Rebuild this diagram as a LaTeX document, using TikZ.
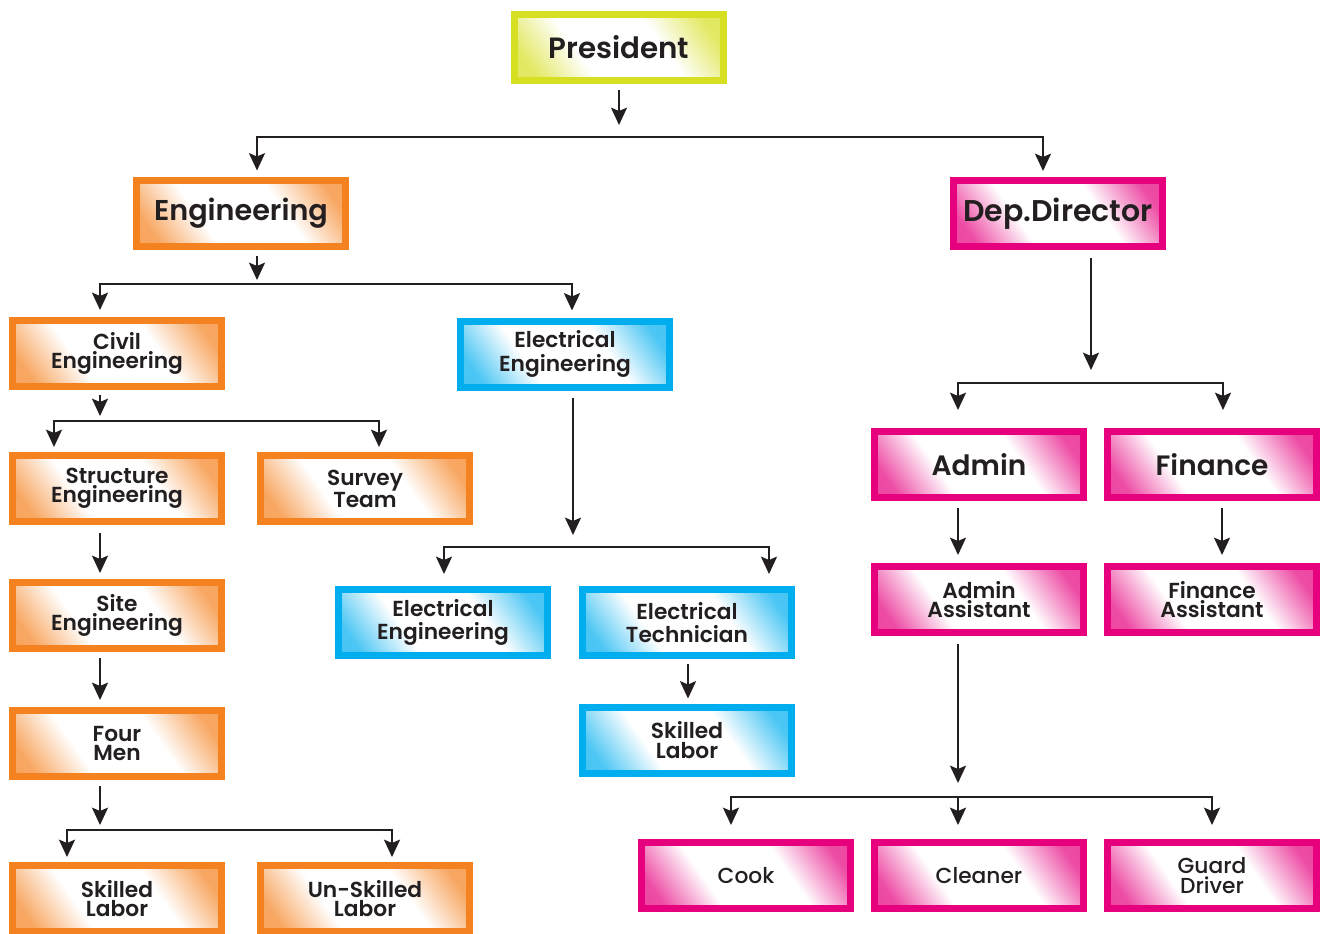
\documentclass[tikz,border=0pt]{standalone}
\usepackage{fontspec}
\setmainfont{Poppins}[UprightFont=* Medium, BoldFont=* SemiBold]
\usetikzlibrary{arrows.meta,calc}
\definecolor{cO}{HTML}{F58220}
\definecolor{cB}{HTML}{00AEEF}
\definecolor{cP}{HTML}{E6007E}
\definecolor{cY}{HTML}{D7DF23}
\definecolor{txt}{HTML}{231F20}
\pgfdeclarehorizontalshading{shO}{100bp}{color(0bp)=(cO!80); color(22bp)=(cO!70); color(38bp)=(white); color(62bp)=(white); color(78bp)=(cO!70); color(100bp)=(cO!80)}
\pgfdeclarehorizontalshading{shB}{100bp}{color(0bp)=(cB!80); color(22bp)=(cB!70); color(38bp)=(white); color(62bp)=(white); color(78bp)=(cB!70); color(100bp)=(cB!80)}
\pgfdeclarehorizontalshading{shP}{100bp}{color(0bp)=(cP!80); color(22bp)=(cP!70); color(38bp)=(white); color(62bp)=(white); color(78bp)=(cP!70); color(100bp)=(cP!80)}
\pgfdeclarehorizontalshading{shY}{100bp}{color(0bp)=(cY!80); color(22bp)=(cY!70); color(38bp)=(white); color(62bp)=(white); color(78bp)=(cY!70); color(100bp)=(cY!80)}
\tikzset{
  box/.style={draw, line width=5.25pt, minimum width=156.75pt, minimum height=49.5pt,
    inner sep=0pt, align=center, text=txt, shading angle=35},
  ob/.style={box, draw=cO, shading=shO},
  bb/.style={box, draw=cB, shading=shB},
  pb/.style={box, draw=cP, shading=shP},
  yb/.style={box, draw=cY, shading=shY},
  fbig/.style={font=\bfseries\fontsize{21.5}{20}\selectfont},
  fdep/.style={font=\bfseries\fontsize{22.5}{20}\selectfont},
  fpres/.style={font=\bfseries\fontsize{22}{20}\selectfont},
  fmid/.style={font=\bfseries\fontsize{21}{18}\selectfont},
  fsm/.style={font=\bfseries\fontsize{16.3}{14.5}\selectfont},
  fel/.style={font=\bfseries\fontsize{16.3}{17.5}\selectfont},
  fck/.style={font=\fontsize{16.3}{14.5}\selectfont},
  arr/.style={draw=txt, line width=1.8pt, -{Stealth[length=13pt,width=12pt,inset=2.5pt]}},
}
\begin{document}
\begin{tikzpicture}[x=0.75pt,y=-0.75pt]
\useasboundingbox (0,0) rectangle (1325,933);
% nodes
\node[yb,fpres] (pres)   at (619,47.5)  {President};
\node[ob,fbig]  (eng)    at (241,213)   {Engineering};
\node[pb,fdep]  (dep)    at (1058,213.5){Dep.Director};
\node[ob,fsm]   (civil)  at (117,353.5) {Civil\\Engineering};
\node[bb,fel]   (elec1)  at (565,354)   {Electrical\\Engineering};
\node[pb,fmid]  (admin)  at (979,464.5) {Admin};
\node[pb,fmid]  (fin)    at (1212,464.5){Finance};
\node[pb,fsm]   (adminA) at (979,599.5) {Admin\\Assistant};
\node[pb,fsm]   (finA)   at (1212,599.5){Finance\\Assistant};
\node[ob,fsm]   (struct) at (117,488.5) {Structure\\Engineering};
\node[ob,fsm]   (survey) at (365,488.5) {Survey\\Team};
\node[bb,fel]   (elec2)  at (443,622.5) {Electrical\\Engineering};
\node[bb,fel]   (etech)  at (687,622.5) {Electrical\\Technician};
\node[bb,fsm]   (sk2)    at (687,740)   {Skilled\\Labor};
\node[ob,fsm]   (site)   at (117,615.5) {Site\\Engineering};
\node[ob,fsm]   (four)   at (117,743.5) {Four\\Men};
\node[ob,fsm]   (sk1)    at (117,898.5) {Skilled\\Labor};
\node[ob,fsm]   (unsk)   at (365,898.5) {Un-Skilled\\Labor};
\node[pb,fck]   (cook)   at (746,875.5) {Cook};
\node[pb,fck]   (clean)  at (979,875.5) {Cleaner};
\node[pb,fck]   (guard)  at (1212,875.5){Guard\\Driver};
% junctions
\coordinate (j1) at (619,137);
\coordinate (j2) at (257,284);
\coordinate (j3) at (1091,383);
\coordinate (j4) at (100,421);
\coordinate (j5) at (573,547);
\coordinate (j6) at (100,830);
\coordinate (j7) at (958,797);
% connectors
\draw[arr] ($(pres.south)+(0,6)$) -- ($(j1)+(0,-12)$);
\draw[arr] (j1) -| ($(eng.north)+(16,-6)$);
\draw[arr] (j1) -| ($(dep.north)+(-15,-6)$);

\draw[arr] ($(eng.south)+(16,6)$) -- ($(j2)+(0,-4)$);
\draw[arr] (j2) -| ($(civil.north)+(-17,-7)$);
\draw[arr] (j2) -| ($(elec1.north)+(7,-7)$);

\draw[arr] ($(dep.south)+(33,8)$) -- ($(j3)+(0,-13)$);
\draw[arr] (j3) -| ($(admin.north)+(-21,-18)$);
\draw[arr] (j3) -| ($(fin.north)+(11,-18)$);

\draw[arr] ($(admin.south)+(-21,7)$) -- ($(adminA.north)+(-21,-8)$);
\draw[arr] ($(fin.south)+(10,7)$) -- ($(finA.north)+(10,-8)$);

\draw[arr] ($(civil.south)+(-17,5)$) -- ($(j4)+(0,-5)$);
\draw[arr] (j4) -| ($(struct.north)+(-63,-5)$);
\draw[arr] (j4) -| ($(survey.north)+(14,-5)$);

\draw[arr] ($(elec1.south)+(8,7)$) -- ($(j5)+(0,-12)$);
\draw[arr] (j5) -| ($(elec2.north)+(1,-12)$);
\draw[arr] (j5) -| ($(etech.north)+(82,-12)$);

\draw[arr] ($(struct.south)+(-17,8)$) -- ($(site.north)+(-17,-6)$);
\draw[arr] ($(site.south)+(-17,6)$) -- ($(four.north)+(-17,-7)$);

\draw[arr] ($(four.south)+(-17,6)$) -- ($(j6)+(0,-5)$);
\draw[arr] (j6) -| ($(sk1.north)+(-50,-5)$);
\draw[arr] (j6) -| ($(unsk.north)+(27,-5)$);

\draw[arr] ($(etech.south)+(1,5)$) -- ($(sk2.north)+(1,-5)$);

\draw[arr] ($(adminA.south)+(-21,8)$) -- ($(j7)+(0,-14)$);
\draw[arr] (j7) -| ($(cook.north)+(-15,-14)$);
\draw[arr] (j7) -- ($(clean.north)+(-21,-14)$);
\draw[arr] (j7) -| ($(guard.north)+(0,-14)$);
\end{tikzpicture}
\end{document}
